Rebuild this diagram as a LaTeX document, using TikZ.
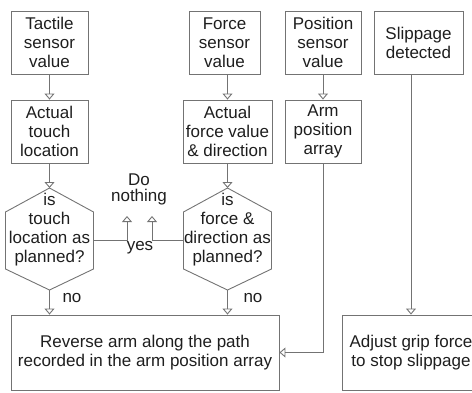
\documentclass[tikz,border=0pt]{standalone}
\usepackage{fontspec}
\setmainfont{Liberation Sans}
\usetikzlibrary{arrows.meta,positioning}
\definecolor{linegray}{RGB}{115,115,115}
\definecolor{textgray}{RGB}{30,30,30}

\begin{document}
\begin{tikzpicture}[x=1pt, y=-1pt, line width=0.9pt,
  every node/.style={font=\fontsize{17}{19}\selectfont, text=textgray},
  box/.style={draw=linegray, align=center, inner sep=2pt, minimum height=63pt},
  flow/.style={draw=linegray, -{Triangle[open, width=10pt, length=6pt]}},
  lbl/.style={align=center, inner sep=0pt}]
\useasboundingbox (0,0) rectangle (472,392);
\clip (0,0) rectangle (472,392);

\node[box, minimum width=77pt] (tact) at (49.5,42.5) {Tactile\\sensor\\value};
\node[box, minimum width=77pt] (touch) at (49.5,131.5) {Actual\\touch\\location};
\node[box, minimum width=71pt] (fsens) at (224.5,42.5) {Force\\sensor\\value};
\node[box, minimum width=89pt] (fval) at (227.5,131.5) {Actual\\force value\\\& direction};
\node[box, minimum width=76pt] (psens) at (323,42.5) {Position\\sensor\\value};
\node[box, minimum width=76pt] (parr) at (323,131.5) {Arm\\position\\array};
\node[box, minimum width=89pt] (slip) at (418.5,42.5) {Slippage\\detected};
\node[box, minimum width=268pt, minimum height=75pt] (rev) at (145,352.5) {Reverse arm along the path\\recorded in the arm position array};
\node[box, minimum width=138pt, minimum height=75pt] (adj) at (411,352.5) {Adjust grip force\\to stop slippage};

% decision hexagons
\foreach \q/\x in {q1/49.5, q2/227.5} {
  \coordinate (\q-n) at (\x,188);
  \coordinate (\q-s) at (\x,290);
  \coordinate (\q-e) at (\x+44,240);
  \coordinate (\q-w) at (\x-44,240);
  \draw[linegray] (\q-n) -- (\x+44,212) -- (\x+44,269) -- (\q-s)
     -- (\x-44,269) -- (\x-44,212) -- cycle;
}
\node[lbl] (q1txt) at (49.5,230) {is\\touch\\location as\\planned?};
\node[lbl] (q2txt) at (227.5,230) {is\\force \&\\direction as\\planned?};

\coordinate (yes1) at (127,216);
\coordinate (yes2) at (152,216);
\node[lbl, font=\fontsize{17}{16}\selectfont] (nop) at (139,189) {Do\\nothing};
\node[lbl] (yes) at (140,248) {yes};
\node[lbl] (no1) at (72,298) {no};
\node[lbl] (no2) at (253,298) {no};

\draw[flow] (tact) -- (touch);
\draw[flow] (touch) -- (q1-n);
\draw[flow] (fsens.south -| fval) -- (fval);
\draw[flow] (fval) -- (q2-n);
\draw[flow] (psens) -- (parr);
\draw[flow] (q1-e) -| (yes1);
\draw[flow] (q2-w) -| (yes2);
\draw[flow] (q1-s) -- (q1-s |- rev.north);
\draw[flow] (q2-s) -- (q2-s |- rev.north);
\draw[flow] (parr) |- (rev);
\draw[flow] (slip.south -| adj) -- (adj);
\end{tikzpicture}
\end{document}
